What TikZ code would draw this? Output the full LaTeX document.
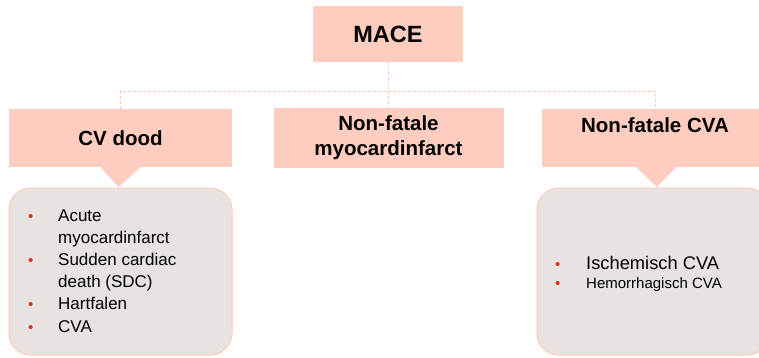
\documentclass[tikz,border=0pt]{standalone}
\usepackage{fontspec}
\setmainfont{Liberation Sans}
\usepackage{array}
\definecolor{hdrpink}{RGB}{255,204,192}
\definecolor{boxgray}{RGB}{232,227,225}
\definecolor{edgepink}{RGB}{255,200,185}
\definecolor{bulred}{RGB}{225,45,35}
\newcommand{\rbul}{{\fontsize{15}{15}\selectfont\textcolor{bulred}{\textbullet}}}
\tikzset{
  hdr/.style={fill=hdrpink, draw=none, inner sep=0pt, align=center,
    font=\fontsize{20.5}{25}\selectfont\bfseries},
  detailbox/.style={fill=boxgray, draw=edgepink, line width=1pt, rounded corners=22pt, inner sep=0pt},
  pointer/.style={fill=hdrpink, draw=none},
  busline/.style={draw=edgepink, line width=0.9pt, dash pattern=on 3pt off 2pt},
  listtext/.style={inner sep=0pt, anchor=base west, align=left}
}
\begin{document}
\begin{tikzpicture}[x=1pt,y=1pt]
\useasboundingbox (0,0) rectangle (759,-357);
\clip (0,0) rectangle (759,-357);
\fill[white] (0,0) rectangle (759,-357);

% header boxes
\node[hdr, minimum width=150, minimum height=56, font=\fontsize{23.5}{28}\selectfont\bfseries] (mace) at (388,-34) {MACE};
\node[hdr, minimum width=223, minimum height=58] (cv) at (120.5,-138) {CV dood};
\node[hdr, minimum width=230, minimum height=60] (mi) at (388.5,-138) {Non-fatale\\myocardinfarct};
\node[hdr, minimum width=226, minimum height=58] (cva) at (655,-138) {Non-fatale CVA\\\mbox{}};

% dashed bus
\coordinate (bus) at ([yshift=-29pt]mace.south);
\draw[busline] (mace.south) -- (bus);
\draw[busline] (cv.north) |- (bus) -| (cva.north);
\draw[busline] (bus) -- (mi.north);

% detail boxes
\node[detailbox, minimum width=223, minimum height=167] (cvbox) at (120.5,-271.5) {};
\node[detailbox, minimum width=232, minimum height=167] (cvabox) at (653,-271.5) {};

% pointers
\fill[pointer] ([xshift=-20pt]cv.south) -- ([xshift=20pt]cv.south) -- ([xshift=-2pt,yshift=0.5pt]cvbox.north) -- cycle;
\fill[pointer] ([xshift=-19pt]cva.south) -- ([xshift=21pt]cva.south) -- ([xshift=4pt,yshift=0.5pt]cvabox.north) -- cycle;

% list texts
\node[listtext, font=\fontsize{17}{22.2}\selectfont] (cvlist) at (28,-221)
{\begin{tabular}[t]{@{}p{30pt}@{}l@{}}
\rbul & Acute\\
      & myocardinfarct\\
\rbul & Sudden cardiac\\
      & death (SDC)\\
\rbul & Hartfalen\\
\rbul & CVA
\end{tabular}};

\node[listtext, font=\fontsize{15}{19}\selectfont] (cvalist) at (555,-269)
{\begin{tabular}[t]{@{}p{31pt}@{}l@{}}
\rbul & {\fontsize{18.3}{19}\selectfont Ischemisch CVA}\\
\rbul & Hemorrhagisch CVA
\end{tabular}};
\end{tikzpicture}
\end{document}
